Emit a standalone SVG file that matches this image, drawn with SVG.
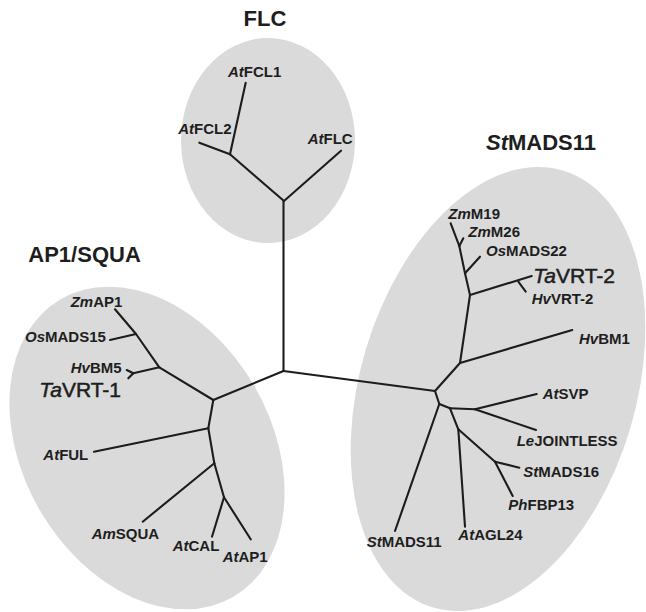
<svg xmlns="http://www.w3.org/2000/svg" width="646" height="612" viewBox="0 0 646 612">
<style>
.clade{fill:#dadada;stroke:none}
.br{stroke:#1c1c1c;stroke-width:2.1;stroke-linecap:round;fill:none}
text{font-family:"Liberation Sans",Arial,sans-serif;fill:#1e1e1e}
.lbl{font-size:15px;font-weight:bold}
.big{font-size:21px;font-weight:normal;stroke:#1e1e1e;stroke-width:0.5}
.title{font-size:22px;font-weight:bold}
.i{font-style:italic}
</style>
<rect width="646" height="612" fill="#ffffff"/>
<g id="clade-FLC"><ellipse class="clade" cx="268" cy="140.5" rx="87" ry="102.5"/><text class="title" x="265" y="26" text-anchor="middle">FLC</text></g>
<g id="clade-AP1SQUA"><ellipse class="clade" cx="147" cy="448" rx="172" ry="124" transform="rotate(60 147 448)"/><text class="title" x="28.3" y="262.3">AP1/SQUA</text></g>
<g id="clade-StMADS11"><ellipse class="clade" cx="498" cy="389" rx="138" ry="228" transform="rotate(16.5 498 389)"/><text class="title" x="486" y="150"><tspan class="i">St</tspan>MADS11</text></g>
<g id="connectors">
<line class="br" x1="283.5" y1="201" x2="283.5" y2="371"/>
<line class="br" x1="283.5" y1="371" x2="213.3" y2="400"/>
<line class="br" x1="283.5" y1="371" x2="435" y2="391"/>
<line class="br" x1="284" y1="201" x2="230" y2="154.3"/>
<line class="br" x1="230" y1="154.3" x2="245.7" y2="82.7"/>
<line class="br" x1="230" y1="154.3" x2="199.3" y2="142.7"/>
<line class="br" x1="284" y1="201" x2="341" y2="150.7"/>
<line class="br" x1="213.3" y1="400" x2="159.3" y2="367.3"/>
<line class="br" x1="159.3" y1="367.3" x2="136" y2="334"/>
<line class="br" x1="136" y1="334" x2="115" y2="309.3"/>
<line class="br" x1="136" y1="334" x2="110" y2="340"/>
<line class="br" x1="159.3" y1="367.3" x2="133.3" y2="373.3"/>
<line class="br" x1="133.3" y1="373.3" x2="126.7" y2="370"/>
<line class="br" x1="133.3" y1="373.3" x2="128.3" y2="378.3"/>
<line class="br" x1="213.3" y1="400" x2="208.3" y2="428.3"/>
<line class="br" x1="208.3" y1="428.3" x2="94" y2="451.7"/>
<line class="br" x1="208.3" y1="428.3" x2="214.3" y2="463.3"/>
<line class="br" x1="214.3" y1="463.3" x2="142.7" y2="521.7"/>
<line class="br" x1="214.3" y1="463.3" x2="224" y2="497.3"/>
<line class="br" x1="224" y1="497.3" x2="212" y2="536.7"/>
<line class="br" x1="224" y1="497.3" x2="250.7" y2="539.3"/>
<line class="br" x1="435" y1="391" x2="460" y2="363"/>
<line class="br" x1="460" y1="363" x2="572.3" y2="330"/>
<line class="br" x1="460" y1="363" x2="470" y2="295"/>
<line class="br" x1="470" y1="295" x2="531.7" y2="276"/>
<line class="br" x1="518.3" y1="281.7" x2="525.7" y2="291.7"/>
<line class="br" x1="470" y1="295" x2="465" y2="273.3"/>
<line class="br" x1="465" y1="273.3" x2="480" y2="256.7"/>
<line class="br" x1="465" y1="273.3" x2="459.3" y2="246"/>
<line class="br" x1="459.3" y1="246" x2="463.3" y2="238.3"/>
<line class="br" x1="459.3" y1="246" x2="450.7" y2="223.3"/>
<line class="br" x1="435" y1="391" x2="439.3" y2="404"/>
<line class="br" x1="439.3" y1="404" x2="395" y2="531"/>
<line class="br" x1="439.3" y1="404" x2="450" y2="408.3"/>
<line class="br" x1="450" y1="408.3" x2="475" y2="409.3"/>
<line class="br" x1="475" y1="409.3" x2="536.7" y2="394"/>
<line class="br" x1="475" y1="409.3" x2="536" y2="430"/>
<line class="br" x1="450" y1="408.3" x2="458.3" y2="429.3"/>
<line class="br" x1="458.3" y1="429.3" x2="465" y2="526.7"/>
<line class="br" x1="458.3" y1="429.3" x2="495" y2="461.7"/>
<line class="br" x1="495" y1="461.7" x2="519.3" y2="467.7"/>
<line class="br" x1="495" y1="461.7" x2="512.7" y2="496"/>
</g>
<g id="AtFCL1"><text class="lbl" x="228" y="77"><tspan class="i">At</tspan>FCL1</text></g>
<g id="AtFCL2"><text class="lbl" x="231.5" y="134" text-anchor="end"><tspan class="i">At</tspan>FCL2</text></g>
<g id="AtFLC"><text class="lbl" x="307.7" y="144"><tspan class="i">At</tspan>FLC</text></g>
<g id="ZmAP1"><text class="lbl" x="70.7" y="306.7"><tspan class="i">Zm</tspan>AP1</text></g>
<g id="OsMADS15"><text class="lbl" x="25" y="342.3"><tspan class="i">Os</tspan>MADS15</text></g>
<g id="HvBM5"><text class="lbl" x="70.7" y="373.3"><tspan class="i">Hv</tspan>BM5</text></g>
<g id="TaVRT-1"><text class="big" x="39.3" y="397.3"><tspan class="i">Ta</tspan>VRT-1</text></g>
<g id="AtFUL"><text class="lbl" x="43.3" y="460"><tspan class="i">At</tspan>FUL</text></g>
<g id="AmSQUA"><text class="lbl" x="91.7" y="539.3"><tspan class="i">Am</tspan>SQUA</text></g>
<g id="AtCAL"><text class="lbl" x="172.7" y="551"><tspan class="i">At</tspan>CAL</text></g>
<g id="AtAP1"><text class="lbl" x="222.7" y="561.7"><tspan class="i">At</tspan>AP1</text></g>
<g id="ZmM19"><text class="lbl" x="448.3" y="219"><tspan class="i">Zm</tspan>M19</text></g>
<g id="ZmM26"><text class="lbl" x="468.3" y="236.7"><tspan class="i">Zm</tspan>M26</text></g>
<g id="OsMADS22"><text class="lbl" x="486" y="255.7"><tspan class="i">Os</tspan>MADS22</text></g>
<g id="TaVRT-2"><text class="big" x="533.3" y="282.7"><tspan class="i">Ta</tspan>VRT-2</text></g>
<g id="HvVRT-2"><text class="lbl" x="531.7" y="304"><tspan class="i">Hv</tspan>VRT-2</text></g>
<g id="HvBM1"><text class="lbl" x="579" y="344"><tspan class="i">Hv</tspan>BM1</text></g>
<g id="AtSVP"><text class="lbl" x="542.7" y="399.3"><tspan class="i">At</tspan>SVP</text></g>
<g id="LeJOINTLESS"><text class="lbl" x="516.7" y="446"><tspan class="i">Le</tspan>JOINTLESS</text></g>
<g id="StMADS16"><text class="lbl" x="523.3" y="477.3"><tspan class="i">St</tspan>MADS16</text></g>
<g id="PhFBP13"><text class="lbl" x="508.3" y="510"><tspan class="i">Ph</tspan>FBP13</text></g>
<g id="StMADS11"><text class="lbl" x="366.7" y="547.3"><tspan class="i">St</tspan>MADS11</text></g>
<g id="AtAGL24"><text class="lbl" x="458.3" y="540"><tspan class="i">At</tspan>AGL24</text></g>
</svg>
